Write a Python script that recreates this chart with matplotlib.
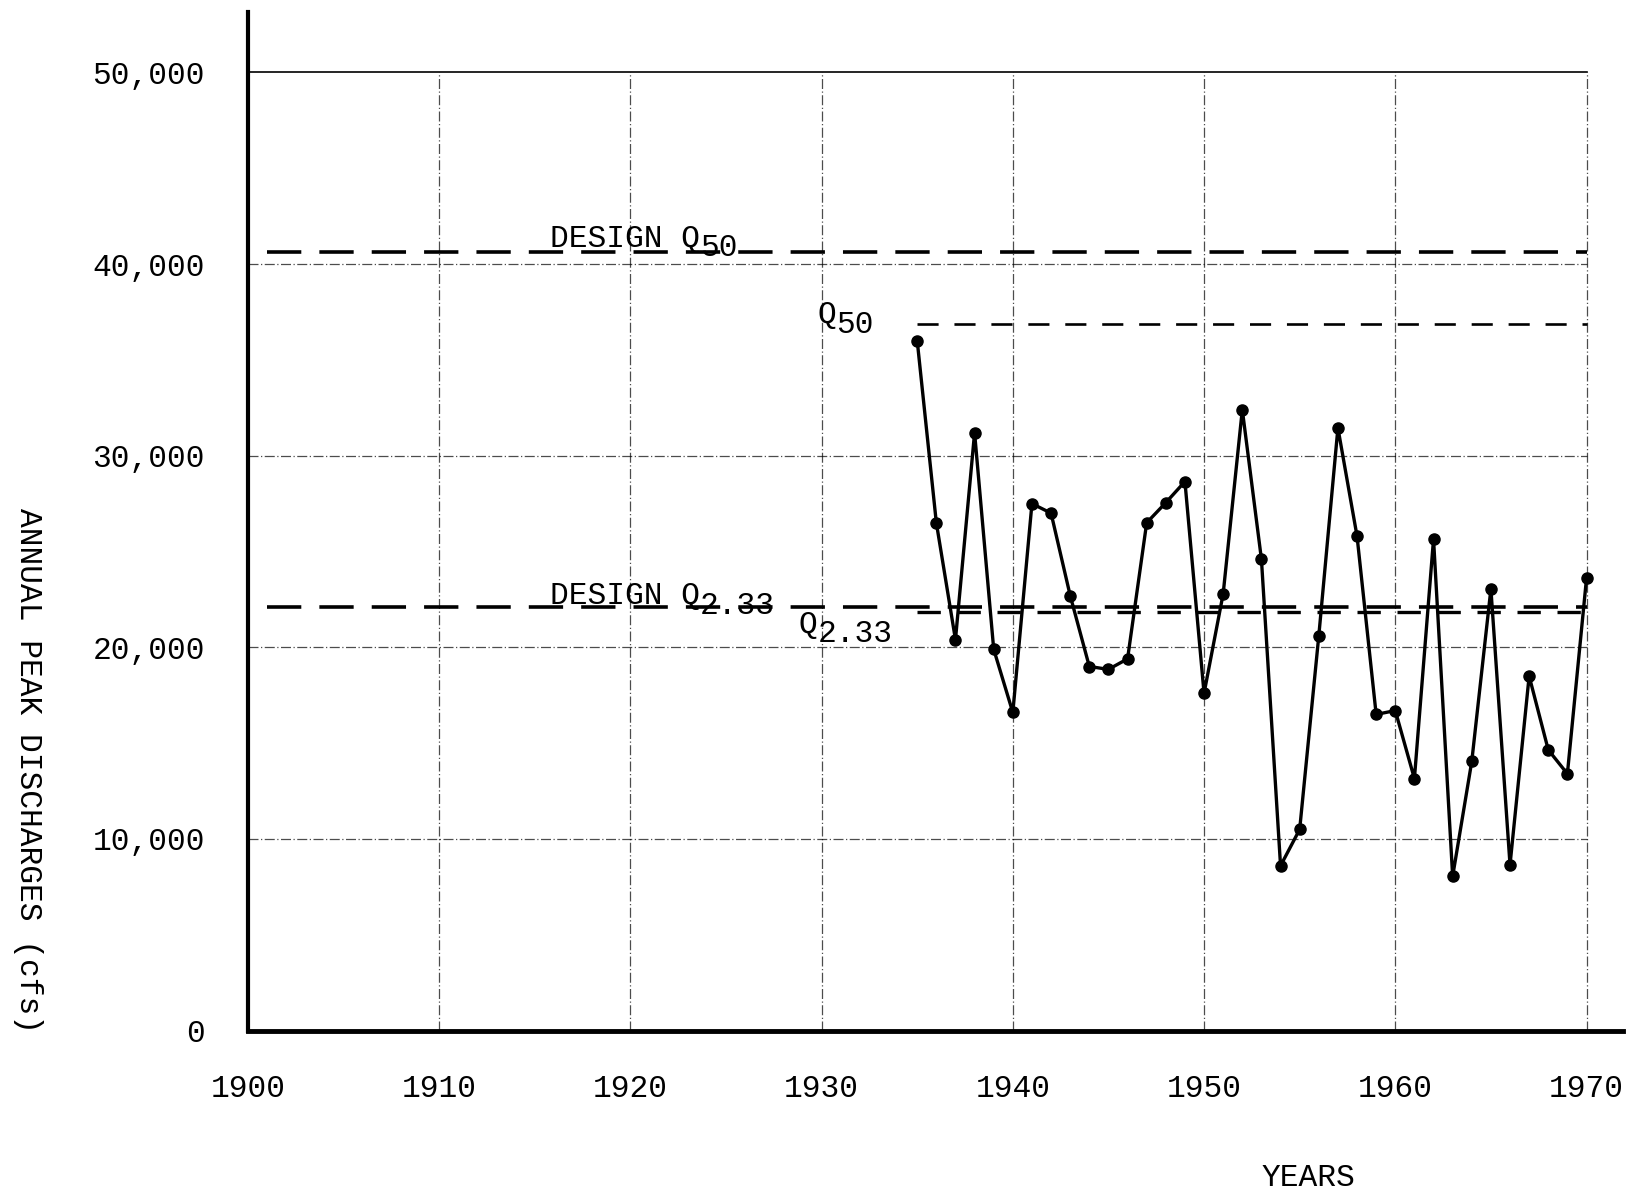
import matplotlib
matplotlib.use("Agg")
import matplotlib.pyplot as plt
from matplotlib.transforms import offset_copy

# annual peak discharges (cfs)
years = [1935, 1936, 1937, 1938, 1939, 1940, 1941, 1942, 1943, 1944, 1945, 1946,
         1947, 1948, 1949, 1950, 1951, 1952, 1953, 1954, 1955, 1956, 1957, 1958,
         1959, 1960, 1961, 1962, 1963, 1964, 1965, 1966, 1967, 1968, 1969, 1970]
peaks = [36000, 26500, 20400, 31200, 19900, 16600, 27500, 27000, 22700, 19000, 18850, 19400,
         26500, 27550, 28650, 17600, 22800, 32400, 24600, 8600, 10500, 20600, 31450, 25800,
         16500, 16700, 13150, 25650, 8050, 14050, 23050, 8650, 18500, 14650, 13400, 23600]

design_q50 = 40650
q50 = 36850
design_q233 = 22100
q233 = 21850

xticks = [1900, 1910, 1920, 1930, 1940, 1950, 1960, 1970]
yticks = [0, 10000, 20000, 30000, 40000, 50000]
ytick_labels = ["0", "10,000", "20,000", "30,000", "40,000", "50,000"]

FS = 22.5
plt.rcParams['font.family'] = ['Liberation Mono', 'DejaVu Sans Mono']

fig = plt.figure(figsize=(16.31, 12.04), dpi=100)
ax = fig.add_axes([0.152, 0.144, 0.843, 0.846])
ax.set_xlim(1900, 1971.9)
ax.set_ylim(0, 53150)

# grid of the typed sheet
for x in xticks[1:]:
    ax.plot([x, x], [0, 50000], color='black', lw=0.9, ls=(0, (8, 2, 1, 2)), alpha=0.7, zorder=1)
for y in yticks[1:-1]:
    ax.plot([1900, 1970], [y, y], color='black', lw=0.9, ls=(0, (8, 2, 1, 2)), alpha=0.7, zorder=1)
ax.plot([1900, 1970], [50000, 50000], color='black', lw=1.2, zorder=1)

# design / computed discharge lines
ax.plot([1901, 1970], [design_q50, design_q50], color='black', lw=2.6,
        ls=(0, (9.5, 5)), zorder=2)
ax.plot([1935, 1970], [q50, q50], color='black', lw=1.9, ls=(0, (8, 6)), zorder=2)
ax.plot([1901, 1970], [design_q233, design_q233], color='black', lw=2.6,
        ls=(0, (9.5, 5)), zorder=2)
ax.plot([1935, 1970], [q233, q233], color='black', lw=2.4, ls=(0, (7, 5)), zorder=2)

# observed peaks
ax.plot(years, peaks, color='black', lw=2.4, marker='o', ms=8, zorder=3)

def sub_label(x, y, main, sub):
    ax.text(x, y, main, fontsize=FS, ha='left', va='baseline', zorder=4)
    tr = offset_copy(ax.transData, fig=fig, x=len(main) * 0.6 * FS, y=-0.3 * FS, units='points')
    ax.text(x, y, sub, fontsize=FS, ha='left', va='baseline', transform=tr, zorder=4)

sub_label(1915.8, 40900, "DESIGN Q", "50")
sub_label(1929.8, 36900, "Q", "50")
sub_label(1915.8, 22250, "DESIGN Q", "2.33")
sub_label(1928.8, 20750, "Q", "2.33")

ax.set_xticks(xticks)
ax.set_xticklabels([str(x) for x in xticks], fontsize=FS)
ax.set_yticks(yticks)
ax.set_yticklabels(ytick_labels, fontsize=FS)
ax.tick_params(axis='x', length=0, pad=31)
ax.tick_params(axis='y', length=0, pad=31)

for s in ['top', 'right']:
    ax.spines[s].set_visible(False)
ax.spines['left'].set_linewidth(3)
ax.spines['bottom'].set_linewidth(3.5)

fig.text(0.017, 0.36, "ANNUAL PEAK DISCHARGES (cfs)", rotation=270, fontsize=FS,
         ha='center', va='center')
fig.text(0.802, 0.022, "YEARS", fontsize=FS, ha='center', va='center')

fig.savefig("out.png", dpi=100)
